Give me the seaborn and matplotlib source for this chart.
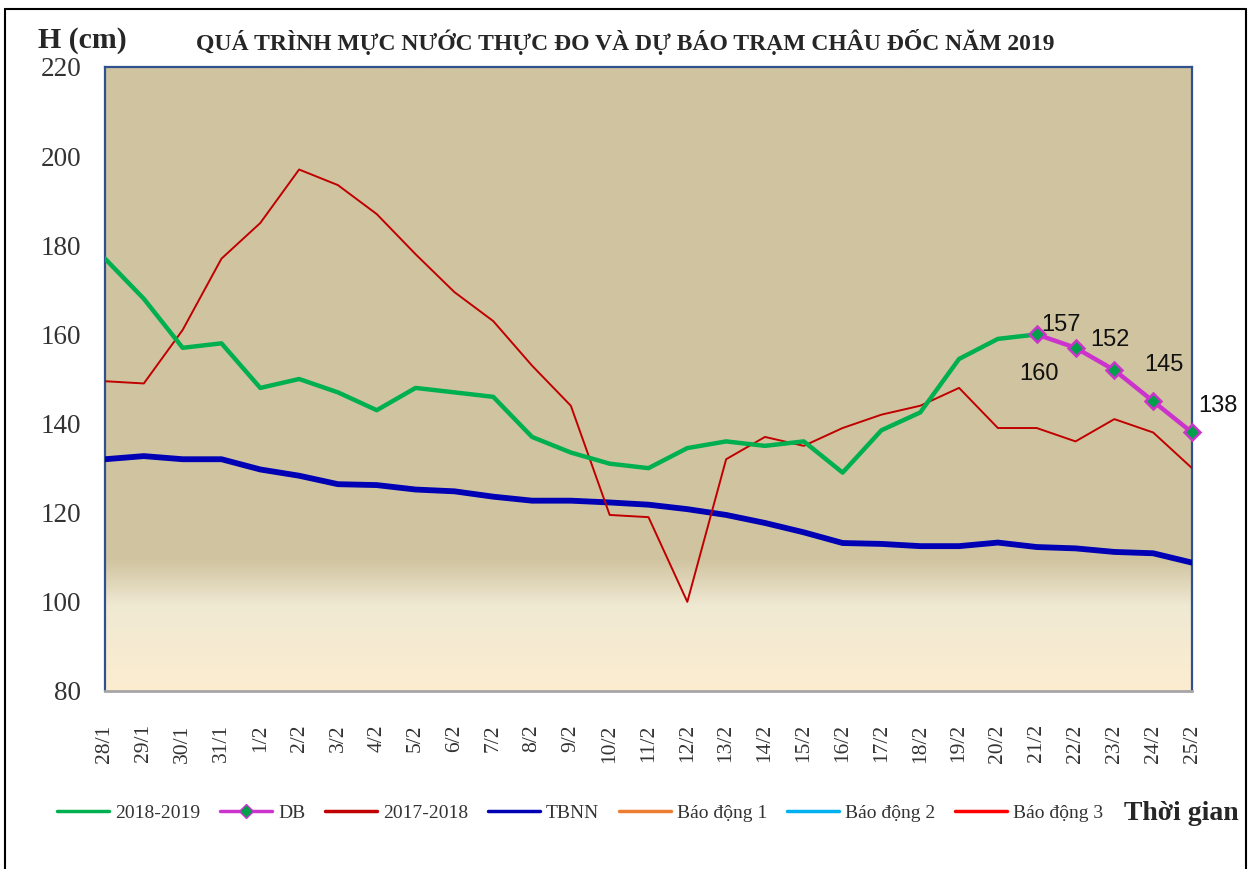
import numpy as np
import pandas as pd
import matplotlib
matplotlib.use("Agg")
import matplotlib.pyplot as plt
from matplotlib.lines import Line2D
import seaborn as sns

# ---------------- data ----------------
dates = ["28/1", "29/1", "30/1", "31/1", "1/2", "2/2", "3/2", "4/2", "5/2", "6/2",
         "7/2", "8/2", "9/2", "10/2", "11/2", "12/2", "13/2", "14/2", "15/2", "16/2",
         "17/2", "18/2", "19/2", "20/2", "21/2", "22/2", "23/2", "24/2", "25/2"]

obs_2019 = [177, 168, 157, 158, 148, 150, 147, 143, 148, 147,
            146, 137, 133.5, 131, 130, 134.5, 136, 135, 136, 129,
            138.5, 142.5, 154.5, 159, 160]

db_dates = ["21/2", "22/2", "23/2", "24/2", "25/2"]
db_vals = [160, 157, 152, 145, 138]

obs_2018 = [149.5, 149, 161, 177, 185, 197, 193.5, 187, 178, 169.5,
            163, 153, 144, 119.5, 119, 100, 132, 137, 135, 139,
            142, 144, 148, 139, 139, 136, 141, 138, 130]

tbnn = [132, 132.7, 132, 132, 129.7, 128.3, 126.4, 126.2, 125.2, 124.8,
        123.6, 122.7, 122.7, 122.3, 121.8, 120.8, 119.5, 117.7, 115.6, 113.2,
        113, 112.5, 112.5, 113.3, 112.3, 112, 111.2, 110.9, 108.8]

bd1 = [350] * len(dates)
bd2 = [400] * len(dates)
bd3 = [450] * len(dates)

yticks = [80, 100, 120, 140, 160, 180, 200, 220]

# ---------------- figure ----------------
W, H = 1253, 869
fig = plt.figure(figsize=(W / 100, H / 100), dpi=100)
sns.set_style("white")
plt.rcParams['font.family'] = ['Liberation Serif', 'DejaVu Serif']

L, R, T, B = 105, 1192, 67, 691
ax = fig.add_axes([L / W, 1 - B / H, (R - L) / W, (B - T) / H])

# gradient background (styling)
fr = np.linspace(0, 1, 400)
stops = [0, 0.135, 0.21, 1]
cols = np.array([[252, 237, 208], [240, 233, 211], [208, 196, 160], [208, 196, 160]]) / 255
grad = np.stack([np.interp(fr, stops, cols[:, k]) for k in range(3)], axis=1)
grad = grad[:, None, :]
ax.imshow(grad, extent=[0, 1, 0, 1], transform=ax.transAxes, origin='lower',
          aspect='auto', zorder=0, interpolation='bilinear')

idx = {d: i for i, d in enumerate(dates)}
df = pd.DataFrame({
    "x": [idx[d] for d in dates],
    "tbnn": tbnn, "y2018": obs_2018, "bd1": bd1, "bd2": bd2, "bd3": bd3,
})
df19 = pd.DataFrame({"x": [idx[d] for d in dates[:len(obs_2019)]], "v": obs_2019})
dfdb = pd.DataFrame({"x": [idx[d] for d in db_dates], "v": db_vals})

c_green = "#00B050"
c_mag = "#CC33CC"
c_red = "#C00000"
c_blue = "#0000B4"
c_or = "#ED7D31"
c_lb = "#00B0F0"
c_r3 = "#FF0000"

sns.lineplot(data=df, x="x", y="bd1", ax=ax, color=c_or, lw=2, zorder=2)
sns.lineplot(data=df, x="x", y="bd2", ax=ax, color=c_lb, lw=2, zorder=2)
sns.lineplot(data=df, x="x", y="bd3", ax=ax, color=c_r3, lw=2, zorder=2)
sns.lineplot(data=df, x="x", y="tbnn", ax=ax, color=c_blue, lw=4.2, zorder=3)
sns.lineplot(data=df, x="x", y="y2018", ax=ax, color=c_red, lw=1.4, zorder=4)
sns.lineplot(data=df19, x="x", y="v", ax=ax, color=c_green, lw=3.2, zorder=5)
sns.lineplot(data=dfdb, x="x", y="v", ax=ax, color=c_mag, lw=3.2, zorder=6,
             marker="D", markersize=8.5, markerfacecolor="#00A04A",
             markeredgecolor=c_mag, markeredgewidth=1.8, clip_on=False)

# data labels for forecast
offs = [(2, -40), (-15, 23), (-4, 30), (11, 36), (26, 26)]
for d, v, o in zip(db_dates, db_vals, offs):
    ax.annotate(f"{v:g}", (idx[d], v), xytext=o, textcoords="offset pixels",
                ha="center", va="center", fontsize=17, family="Liberation Sans",
                color="#111111", zorder=7, annotation_clip=False)

ax.set_xlim(0, len(dates) - 1)
ax.set_ylim(80, 220)
ax.set_xticks(range(len(dates)))
ax.set_xticklabels(dates, rotation=90, fontsize=15.5, color="#333333")
ax.set_yticks(yticks)
ax.set_yticklabels([str(t) for t in yticks], fontsize=19.5, color="#333333")
ax.tick_params(axis="x", length=0, pad=24)
ax.tick_params(axis="y", length=0, pad=17)
ax.set_xlabel("")
ax.set_ylabel("")
ax.grid(False)

for s in ["left", "top", "right"]:
    ax.spines[s].set_color("#2F528F")
    ax.spines[s].set_linewidth(1.6)
ax.spines["bottom"].set_color("#A6A6A6")
ax.spines["bottom"].set_linewidth(2)

# titles
fig.text(38 / W, 1 - 41 / H, "H (cm)", fontsize=21.5, fontweight="bold",
         ha="left", va="center", color="#262626")
fig.text(625 / W, 1 - 42 / H,
         "QUÁ TRÌNH MỰC NƯỚC THỰC ĐO VÀ DỰ BÁO TRẠM CHÂU ĐỐC NĂM 2019",
         fontsize=17, fontweight="bold", ha="center", va="center", color="#262626")
fig.text(1181 / W, 1 - 813 / H, "Thời gian", fontsize=20, fontweight="bold",
         ha="center", va="center", color="#262626")

# legend
handles = [
    Line2D([], [], color=c_green, lw=2.5),
    Line2D([], [], color=c_mag, lw=2.5, marker="D", markersize=7,
           markerfacecolor="#00A04A", markeredgecolor=c_mag),
    Line2D([], [], color=c_red, lw=2.5),
    Line2D([], [], color=c_blue, lw=2.5),
    Line2D([], [], color=c_or, lw=2.5),
    Line2D([], [], color=c_lb, lw=2.5),
    Line2D([], [], color=c_r3, lw=2.5),
]
labels = ["2018-2019", "DB", "2017-2018", "TBNN", "Báo động 1", "Báo động 2", "Báo động 3"]
fig.legend(handles, labels, ncol=7, loc="center",
           bbox_to_anchor=(580 / W, 1 - 813 / H), frameon=False,
           fontsize=14, handlelength=2.7, handletextpad=0.3, columnspacing=1.0,
           labelcolor="#333333")

# outer frame
fig.add_artist(Line2D([5 / W, 5 / W], [0, 1 - 9 / H], transform=fig.transFigure,
                      color="black", lw=1.5))
fig.add_artist(Line2D([5 / W, 1246 / W], [1 - 9 / H, 1 - 9 / H], transform=fig.transFigure,
                      color="black", lw=1.5))
fig.add_artist(Line2D([1246 / W, 1246 / W], [0, 1 - 9 / H], transform=fig.transFigure,
                      color="black", lw=1.5))

fig.savefig("out.png", dpi=100)
